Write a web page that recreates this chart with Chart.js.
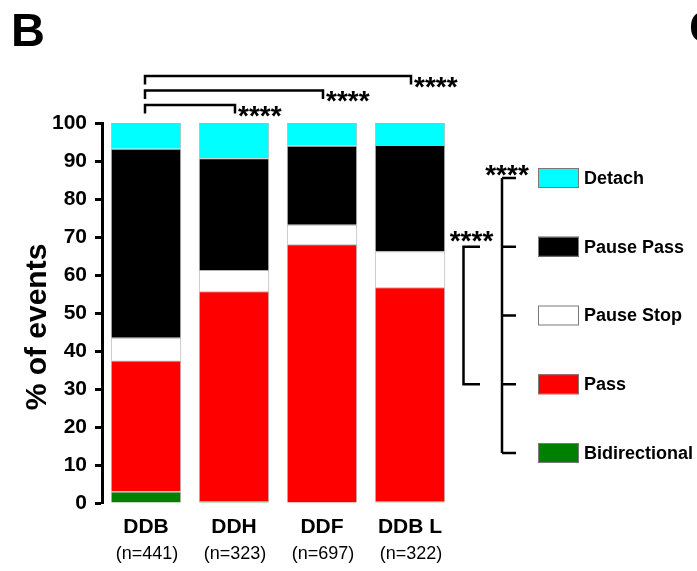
<!DOCTYPE html>
<html>
<head>
<meta charset="utf-8">
<script src="https://cdn.jsdelivr.net/npm/chart.js@4.4.0/dist/chart.umd.min.js"></script>
<style>
  html, body { margin: 0; padding: 0; background: #fff; }
  #wrap { width: 697px; height: 571px; }
</style>
</head>
<body>
<div id="wrap"><canvas id="canvas" width="697" height="571"></canvas></div>
<script>
var categories = ['DDB', 'DDH', 'DDF', 'DDB L'];
var counts = ['(n=441)', '(n=323)', '(n=697)', '(n=322)'];
var yTicks = [0, 10, 20, 30, 40, 50, 60, 70, 80, 90, 100];

// stacked from bottom to top
var bidirectional = [3.0, 0.5, 0.0, 0.3];
var pass = [34.5, 55.2, 68.1, 56.5];
var pauseStop = [6.0, 5.6, 5.1, 9.4];
var pausePass = [49.7, 29.4, 20.8, 28.0];
var detach = [6.8, 9.3, 6.0, 5.8];

var FONT = "'Liberation Sans', Arial, Helvetica, sans-serif";
Chart.defaults.font.family = FONT;
Chart.defaults.color = '#000';

function ds(label, data, color) {
    return {
        label: label,
        data: data,
        backgroundColor: color,
        borderColor: '#b4b4b4',
        borderWidth: 1,
        barPercentage: 0.8,
        categoryPercentage: 1.0
    };
}

var barData = {
    labels: categories,
    datasets: [
        ds('Bidirectional', bidirectional, '#008000'),
        ds('Pass', pass, '#ff0000'),
        ds('Pause Stop', pauseStop, '#ffffff'),
        ds('Pause Pass', pausePass, '#000000'),
        ds('Detach', detach, '#00ffff')
    ]
};

function stars(ctx, x, cy, align) {
    ctx.font = 'bold 28px ' + FONT;
    ctx.textAlign = align || 'left';
    ctx.textBaseline = 'alphabetic';
    ctx.fillText('****', x, cy + 16);
}

var extras = {
    id: 'extras',
    afterDraw: function(chart) {
        var ctx = chart.ctx;
        var xs = chart.scales.x;
        ctx.save();
        ctx.fillStyle = '#000';
        ctx.strokeStyle = '#000';

        // panel letters
        ctx.font = 'bold 47px ' + FONT;
        ctx.textAlign = 'left';
        ctx.textBaseline = 'alphabetic';
        ctx.fillText('B', 11, 46);
        ctx.fillText('C', 689, 43);

        // y title
        ctx.save();
        ctx.translate(38, 327);
        ctx.rotate(-Math.PI / 2);
        ctx.font = 'bold 30px ' + FONT;
        ctx.textAlign = 'center';
        ctx.textBaseline = 'middle';
        ctx.fillText('% of events', 0, 0);
        ctx.restore();

        // sample sizes
        ctx.font = '18px ' + FONT;
        ctx.textAlign = 'center';
        ctx.textBaseline = 'alphabetic';
        counts.forEach(function(t, i) {
            ctx.fillText(t, xs.getPixelForValue(i) + 1, 559);
        });

        // significance brackets above bars
        ctx.lineWidth = 2.5;
        var x0 = xs.getPixelForValue(0) - 1;
        var levels = [105, 90.5, 76];
        for (var k = 1; k <= 3; k++) {
            var x1 = xs.getPixelForValue(k) + 1;
            var y = levels[k - 1];
            ctx.beginPath();
            ctx.moveTo(x0, y + 8.5);
            ctx.lineTo(x0, y);
            ctx.lineTo(x1, y);
            ctx.lineTo(x1, y + 8.5);
            ctx.stroke();
            stars(ctx, x1 + 3, y + 3.5);
        }

        // legend (top to bottom)
        var order = barData.datasets.slice().reverse();
        var rowY = [];
        order.forEach(function(d, i) {
            var cy = 178 + i * 68.75;
            rowY.push(cy);
            ctx.fillStyle = d.backgroundColor;
            ctx.fillRect(538, cy - 10, 41, 20);
            ctx.lineWidth = 1;
            ctx.strokeStyle = '#7a7a7a';
            ctx.strokeRect(538.5, cy - 9.5, 40, 19);
            ctx.fillStyle = '#000';
            ctx.font = 'bold 18px ' + FONT;
            ctx.textAlign = 'left';
            ctx.textBaseline = 'middle';
            ctx.fillText(d.label, 584, cy + 1);
        });

        // brackets beside legend
        ctx.strokeStyle = '#000';
        ctx.lineWidth = 2.5;
        ctx.beginPath();
        ctx.moveTo(502, rowY[0]);
        ctx.lineTo(502, rowY[4]);
        rowY.forEach(function(y) {
            ctx.moveTo(502, y);
            ctx.lineTo(516, y);
        });
        ctx.stroke();
        ctx.beginPath();
        ctx.moveTo(480, rowY[1]);
        ctx.lineTo(463.5, rowY[1]);
        ctx.lineTo(463.5, rowY[3]);
        ctx.lineTo(480, rowY[3]);
        ctx.stroke();
        stars(ctx, 507, 168, 'center');
        stars(ctx, 471.5, 234, 'center');

        ctx.restore();
    }
};

window.onload = function() {
    var ctx = document.getElementById('canvas').getContext('2d');
    window.myBar = new Chart(ctx, {
        type: 'bar',
        data: barData,
        plugins: [extras],
        options: {
            responsive: false,
            animation: false,
            layout: {
                padding: { top: 123, right: 243, bottom: 0, left: 0 }
            },
            plugins: {
                legend: { display: false },
                tooltip: { enabled: false },
                title: { display: false }
            },
            scales: {
                x: {
                    stacked: true,
                    offset: true,
                    grid: { display: false, drawTicks: false },
                    border: { display: false },
                    ticks: {
                        padding: 12,
                        font: { size: 21, weight: 'bold' },
                        color: '#000'
                    },
                    afterFit: function(s) { s.height = 68; }
                },
                y: {
                    stacked: true,
                    min: 0,
                    max: 100,
                    afterBuildTicks: function(s) {
                        s.ticks = yTicks.map(function(v) { return { value: v }; });
                    },
                    grid: {
                        drawOnChartArea: false,
                        drawTicks: true,
                        tickLength: 7,
                        tickWidth: 3,
                        tickColor: '#000'
                    },
                    border: { display: true, color: '#000', width: 3 },
                    ticks: {
                        padding: 8,
                        font: { size: 21, weight: 'bold' },
                        color: '#000'
                    },
                    afterFit: function(s) { s.width = 102; }
                }
            }
        }
    });
};
</script>
</body>
</html>
